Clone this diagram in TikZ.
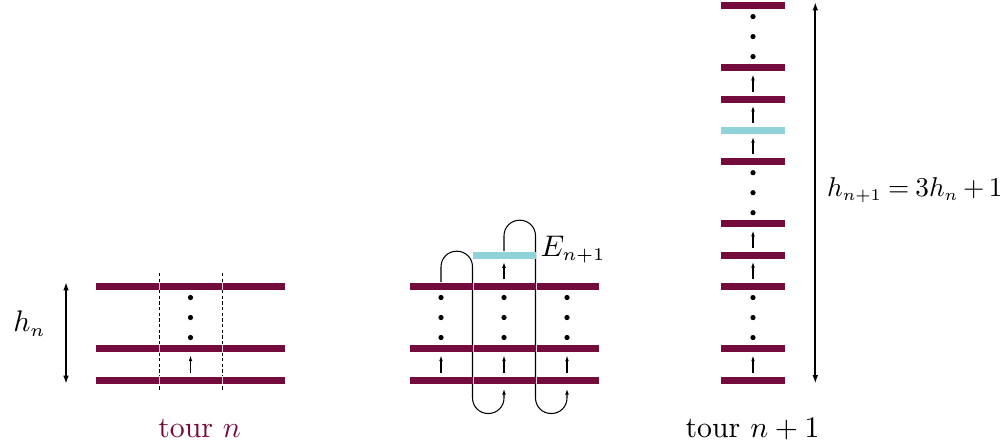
\documentclass[tikz,border=0pt]{standalone}
\usetikzlibrary{arrows.meta,backgrounds}
\definecolor{tourpurple}{RGB}{115,11,60}
\definecolor{ecyan}{RGB}{143,211,216}
\newcommand{\sbs}[1]{\hbox{\fontsize{6}{7}\selectfont$#1$}}
\begin{document}
\begin{tikzpicture}[x=0.3355pt,y=-0.3355pt,
  seg/.style={rectangle,fill=tourpurple,inner sep=0pt,minimum width=21.14pt,minimum height=2.35pt},
  nseg/.style={seg,minimum width=21.5pt},
  eseg/.style={seg,fill=ecyan},
  dotmark/.style={circle,fill=black,inner sep=0pt,minimum size=1.75pt},
  uparrow/.style={-{Latex[length=1.9pt,width=1.25pt]},line width=0.35pt,shorten <=1pt,shorten >=0.9pt},
  heightarrow/.style={{Latex[length=2.8pt,width=1.9pt]}-{Latex[length=2.8pt,width=1.9pt]},line width=0.6pt},
  guide/.style={line width=0.3pt,dash pattern=on 1.1pt off 0.8pt},
  seam/.style={line width=0.3pt,draw=tourpurple!20},
  loopln/.style={-{Latex[length=1.9pt,width=1.25pt]},line width=0.35pt,rounded corners=5.2pt,shorten >=1.6pt},
  lbl/.style={inner sep=0pt,anchor=base west}]
\useasboundingbox (0,0) rectangle (1000,447);

% ---------- tower n ----------
\foreach \k/\y in {0/380,1/348.7,3/286.3}{
  \foreach \c/\x in {l/127.5,m/190.5,r/253.5}{
    \node[seg] (L\k\c) at (\x,\y) {};
  }
  \draw[seam] (L\k l.north east) -- (L\k l.south east);
  \draw[seam] (L\k m.north east) -- (L\k m.south east);
}
\foreach \y [count=\i] in {297.5,317.5,337.5}
  \node[dotmark] (Ld\i) at (190.5,\y) {};
\draw[uparrow] (L0m) -- (L1m);
\begin{scope}[on background layer]
  \draw[guide] (159,273) -- (159,390);
  \draw[guide] (222,273) -- (222,390);
\end{scope}
\coordinate (hL0) at (66,384);
\coordinate (hL1) at (66,282);
\draw[heightarrow] (hL0) -- (hL1);
\node[lbl] (hn) at (12.7,331.7) {$h_{\sbs{n}}$};
\node[lbl,text=tourpurple] (tn) at (157.7,437.3) {tour $n$};

% ---------- construction ----------
\foreach \k/\y in {0/380,1/348.7,3/286.3}{
  \foreach \c/\x in {l/441,m/504,r/567}{
    \node[seg] (M\k\c) at (\x,\y) {};
  }
  \draw[seam] (M\k l.north east) -- (M\k l.south east);
  \draw[seam] (M\k m.north east) -- (M\k m.south east);
}
\node[eseg] (E1) at (504,255.3) {};
\foreach \c/\x in {l/441,m/504,r/567}{
  \foreach \y [count=\i] in {297.5,317.5,337.5}
    \node[dotmark] (Md\c\i) at (\x,\y) {};
  \draw[uparrow] (M0\c) -- (M1\c);
}
\draw[uparrow] (M3m) -- (E1);
\begin{scope}[on background layer]
  \draw[loopln] (M3l.north) -- ++(0,-31) -- ++(31.5,0) -- ++(0,162.3) -- ++(31.5,0) -- (M0m.south);
  \draw[loopln] (E1.north) -- ++(0,-31) -- ++(31.5,0) -- ++(0,193.3) -- ++(31.5,0) -- (M0r.south);
\end{scope}
\node[lbl] (El) at (540,256) {$E_{\sbs{n{+}1}}$};

% ---------- tower n+1 ----------
\foreach \k in {0,1,3,4,5,7,9,10,12}
  \node[nseg] (R\k) at (753,{380-31.22*\k}) {};
\node[nseg,fill=ecyan] (R8) at (753,{380-31.22*8}) {};
\foreach \a/\b in {0/1,3/4,4/5,7/8,8/9,9/10}
  \draw[uparrow] (R\a) -- (R\b);
\foreach \k in {1,5,10}{
  \foreach \d [count=\i] in {-20,0,20}
    \node[dotmark] (Rd\k\i) at (753,{380-31.22*(\k+1)+\d}) {};
}
\coordinate (hR0) at (815.3,383.5);
\coordinate (hR1) at (815.3,2);
\draw[heightarrow] (hR0) -- (hR1);
\node[lbl,scale=0.915] (hnn) at (826.5,196.5)
  {\thickmuskip=4mu\medmuskip=3mu$h_{\sbs{n{+}1}}=3h_{\sbs{n}}+1$};
\node[lbl] (tnn) at (685,437.3) {tour $n+1$};
\end{tikzpicture}
\end{document}
